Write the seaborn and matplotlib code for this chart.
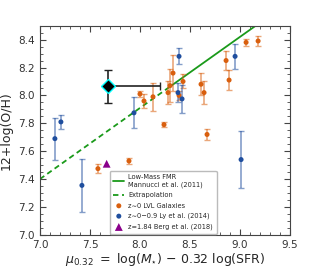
import numpy as np
import pandas as pd
import seaborn as sns
import matplotlib.pyplot as plt
from matplotlib.ticker import MultipleLocator

sns.set_style("ticks")
plt.rcParams['font.family'] = ['DejaVu Sans']

# z~0 LVL galaxies
lvl_mu = [7.58, 7.89, 8.00, 8.04, 8.13, 8.24, 8.28, 8.30, 8.33, 8.39, 8.43,
          8.61, 8.64, 8.67, 8.86, 8.89, 9.06, 9.18]
lvl_oh = [7.475, 7.53, 8.01, 7.96, 7.99, 7.79, 8.02, 8.07, 8.16, 8.00, 8.10,
          8.08, 8.02, 7.72, 8.25, 8.11, 8.38, 8.39]
lvl_err = [0.03, 0.02, 0.02, 0.05, 0.10, 0.02, 0.08, 0.12, 0.13, 0.03, 0.05,
           0.08, 0.08, 0.04, 0.065, 0.07, 0.025, 0.035]

# z~0-0.9 Ly et al. (2014)
ly_mu = [7.15, 7.21, 7.42, 7.94, 8.38, 8.39, 8.42, 8.95, 9.01]
ly_oh = [7.69, 7.81, 7.355, 7.875, 8.02, 8.28, 7.975, 8.28, 7.54]
ly_err = [0.15, 0.05, 0.19, 0.11, 0.07, 0.057, 0.10, 0.09, 0.205]

# z=1.84 Berg et al. (2018)
berg_mu = [7.667]
berg_oh = [7.51]

# this object
obj_mu = 7.683
obj_oh = 8.065
obj_yerr = 0.12
obj_xerr_hi = 0.52

# Mannucci et al. (2011) low-mass FMR
fmr_mu_ext = [7.0, 8.3]
fmr_mu = [8.3, 9.5]

def fmr(mu):
    return 8.93 + 0.51 * (np.asarray(mu) - 10.0)

orange = "#d95f0e"
blue = "#1f4e9e"
purple = "#8b008b"
green = "#1a9a1a"

fig, ax = plt.subplots(figsize=(3.14, 2.70), dpi=100)
fig.subplots_adjust(left=0.127, right=0.924, bottom=0.13, top=0.905)

ext = pd.DataFrame({"mu": fmr_mu_ext, "oh": fmr(fmr_mu_ext)})
sol = pd.DataFrame({"mu": fmr_mu, "oh": fmr(fmr_mu)})
sns.lineplot(data=sol, x="mu", y="oh", ax=ax, color=green, lw=1.3,
             label="Low-Mass FMR\nMannucci et al. (2011)")
sns.lineplot(data=ext, x="mu", y="oh", ax=ax, color=green, lw=1.3,
             linestyle=(0, (3, 2)), label="Extrapolation")

ax.errorbar(lvl_mu, lvl_oh, yerr=lvl_err, fmt="none", ecolor=orange,
            alpha=0.55, capsize=2, elinewidth=1.2, capthick=1)
ax.errorbar(ly_mu, ly_oh, yerr=ly_err, fmt="none", ecolor=blue,
            alpha=0.55, capsize=2, elinewidth=1.2, capthick=1)

lvl = pd.DataFrame({"mu": lvl_mu, "oh": lvl_oh})
ly = pd.DataFrame({"mu": ly_mu, "oh": ly_oh})
berg = pd.DataFrame({"mu": berg_mu, "oh": berg_oh})
sns.scatterplot(data=lvl, x="mu", y="oh", ax=ax, color=orange, s=13,
                edgecolor="none", label="z∼0 LVL Galaxies", zorder=3)
sns.scatterplot(data=ly, x="mu", y="oh", ax=ax, color=blue, s=13,
                edgecolor="none", label="z∼0−0.9 Ly et al. (2014)", zorder=3)
sns.scatterplot(data=berg, x="mu", y="oh", ax=ax, color=purple, s=32,
                marker="^", edgecolor="none", label="z=1.84 Berg et al. (2018)",
                zorder=3)

ax.errorbar([obj_mu], [obj_oh], yerr=obj_yerr, xerr=[[0], [obj_xerr_hi]],
            fmt="D", color="black", mfc="black", mec="cyan", mew=1.0, ms=7,
            ecolor="#222222", elinewidth=1.2, capsize=3, capthick=1.2, zorder=4)

ax.set_xlim(7.0, 9.5)
ax.set_ylim(7.0, 8.5)
ax.xaxis.set_major_locator(MultipleLocator(0.5))
ax.xaxis.set_minor_locator(MultipleLocator(0.1))
ax.yaxis.set_major_locator(MultipleLocator(0.2))
ax.yaxis.set_minor_locator(MultipleLocator(0.05))
ax.tick_params(which="both", direction="in", top=True, right=True,
               colors="#444444", labelcolor="#333333", labelsize=7.5)
ax.tick_params(which="major", length=4)
ax.tick_params(which="minor", length=2)
for s in ax.spines.values():
    s.set_color("#444444")

ax.set_xlabel(r"$\mu_{0.32}$ $=$ log($M_{\star}$) $-$ 0.32 log(SFR)",
              fontsize=9, labelpad=1)
ax.set_ylabel("12+log(O/H)", fontsize=9)

ax.legend(loc="lower right", fontsize=4.8, frameon=True, framealpha=1,
          edgecolor="#bbbbbb", handlelength=1.6, handletextpad=0.6,
          borderpad=0.55, labelspacing=0.65, borderaxespad=0.15,
          bbox_to_anchor=(0.71, 0.0))

fig.savefig("out.png", dpi=100)
